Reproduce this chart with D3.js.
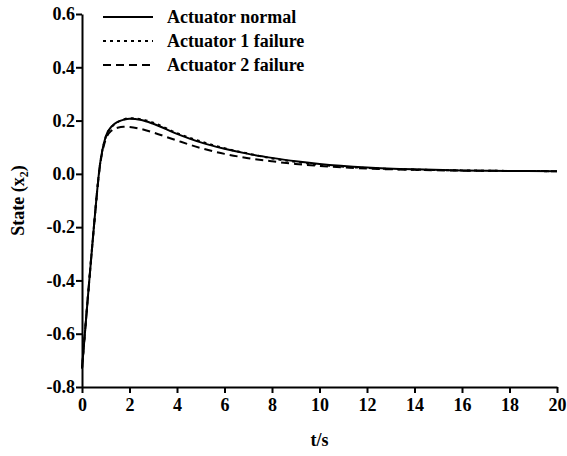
<!DOCTYPE html>
<html>
<head>
<meta charset="utf-8">
<script src="https://cdn.jsdelivr.net/npm/d3@7"></script>
<style>
  body { margin: 0; background: #fff; }
</style>
</head>
<body>
<div id="chart"></div>
<script>
// sampled time points (s)
const time = [0, 0.25, 0.5, 0.75, 1, 1.25, 1.5, 1.75, 2, 2.5, 3, 4, 5, 6, 7, 8, 9, 10, 12, 14, 16, 18, 20];
// state x2 for each case
const normal   = [-0.73, -0.46, -0.2, 0.03, 0.14, 0.178, 0.195, 0.203, 0.207, 0.202, 0.188, 0.15, 0.118, 0.094, 0.075, 0.06, 0.047, 0.037, 0.024, 0.017, 0.013, 0.011, 0.01];
const failure1 = [-0.73, -0.46, -0.2, 0.03, 0.138, 0.176, 0.194, 0.204, 0.209, 0.205, 0.192, 0.153, 0.122, 0.096, 0.076, 0.058, 0.045, 0.034, 0.022, 0.016, 0.013, 0.011, 0.01];
const failure2 = [-0.73, -0.46, -0.2, 0.025, 0.13, 0.163, 0.173, 0.177, 0.176, 0.168, 0.155, 0.125, 0.097, 0.075, 0.059, 0.047, 0.037, 0.03, 0.02, 0.015, 0.012, 0.011, 0.01];
const seriesNames = ["Actuator normal", "Actuator 1 failure", "Actuator 2 failure"];
const xTicks = [0, 2, 4, 6, 8, 10, 12, 14, 16, 18, 20];
const yTicks = [-0.8, -0.6, -0.4, -0.2, 0.0, 0.2, 0.4, 0.6];

const width = 567, height = 456;
const margin = {top: 14, right: 10, bottom: 69, left: 82};
const FONT = "Liberation Serif";

const svg = d3.select("#chart").append("svg")
  .attr("width", width).attr("height", height)
  .attr("font-family", FONT).attr("font-weight", "bold");

const x = d3.scaleLinear().domain([0, 20]).range([margin.left, width - margin.right]);
const y = d3.scaleLinear().domain([-0.8, 0.6]).range([height - margin.bottom, margin.top]);

const xAxis = svg.append("g")
  .attr("transform", `translate(0,${y(-0.8)})`)
  .call(d3.axisBottom(x).tickValues(xTicks).tickSize(6).tickSizeOuter(0).tickFormat(d3.format("d")));
const yAxis = svg.append("g")
  .attr("transform", `translate(${x(0)},0)`)
  .call(d3.axisLeft(y).tickValues(yTicks).tickSize(6).tickSizeOuter(0).tickFormat(d3.format(".1f")));

[xAxis, yAxis].forEach(a => {
  a.attr("font-family", FONT).attr("font-size", 18);
  a.select(".domain").attr("stroke", "#000").attr("stroke-width", 2);
  a.selectAll(".tick line").attr("stroke", "#000").attr("stroke-width", 2);
  a.selectAll(".tick text").attr("fill", "#000");
});
xAxis.selectAll(".tick text").attr("dy", "0.85em");
yAxis.selectAll(".tick text").attr("x", -7).text(d => d3.format(".1f")(d).replace("−", "-"));

const styles = [null, "3,4", "8,5"];
const series = [normal, failure1, failure2];
const line = d3.line().x((d, i) => x(time[i])).y(d => y(d)).curve(d3.curveMonotoneX);

series.forEach((s, k) => {
  svg.append("path")
    .datum(s)
    .attr("d", line)
    .attr("fill", "none")
    .attr("stroke", "#000")
    .attr("stroke-width", 2)
    .attr("stroke-dasharray", styles[k]);
});

// legend
const lg = svg.append("g").attr("font-size", 18);
seriesNames.forEach((n, k) => {
  const ly = 17 + k * 24;
  lg.append("line").attr("x1", 103).attr("x2", 153).attr("y1", ly).attr("y2", ly)
    .attr("stroke", "#000").attr("stroke-width", 2).attr("stroke-dasharray", styles[k]);
  lg.append("text").attr("x", 167).attr("y", ly + 6).text(n);
});

// axis titles
svg.append("text").attr("x", (x(0) + x(20)) / 2).attr("y", 446)
  .attr("text-anchor", "middle").attr("font-size", 18).text("t/s");

const yl = svg.append("text")
  .attr("transform", `translate(24,${y(-0.1)}) rotate(-90)`)
  .attr("text-anchor", "middle").attr("font-size", 18);
yl.append("tspan").text("State (x");
yl.append("tspan").attr("dy", 4).attr("font-size", 12).text("2");
yl.append("tspan").attr("dy", -4).text(")");
</script>
</body>
</html>
